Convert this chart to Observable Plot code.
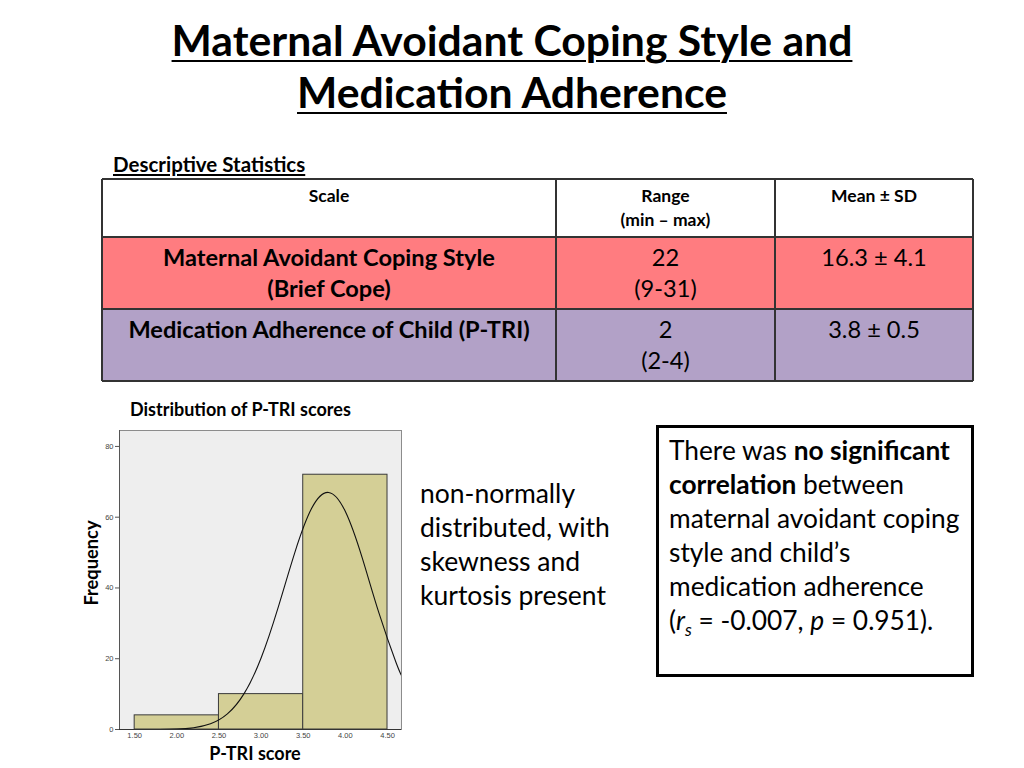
<!DOCTYPE html>
<html>
<head>
<meta charset="utf-8">
<script src="https://cdn.jsdelivr.net/npm/d3@7"></script>
<script src="https://cdn.jsdelivr.net/npm/@observablehq/plot@0.6"></script>
<style>
  html, body { margin:0; padding:0; background:#fff; }
  body { width:1024px; height:768px; position:relative; overflow:hidden; font-family: Lato, "Open Sans", sans-serif; color:#000; }
  .abs { position:absolute; }
  .title { left:0; width:1024px; text-align:center; font-weight:700; font-size:42.7px; line-height:52px; top:14px; }
  .title span { text-decoration: underline; text-decoration-thickness: 2px; text-underline-offset: 4px; }
  .cell { position:absolute; box-sizing:border-box; text-align:center; }
  .hdr { font-weight:700; font-size:17.5px; line-height:24px; padding-top:5px; }
  .row { font-size:23.6px; line-height:31px; padding-top:5px; }
  .box { left:656px; top:425px; width:318px; height:252px; box-sizing:border-box; border:3px solid #000; padding:5px 0 0 10px; font-size:26.3px; line-height:34px; }
  .mid { left:420px; top:476px; font-size:26.5px; line-height:34px; }
</style>
</head>
<body>
<div class="abs title"><span>Maternal Avoidant Coping Style and</span><br><span>Medication Adherence</span></div>

<div class="abs" style="left:113px; top:152px; font-weight:700; font-size:20.5px; text-decoration:underline;">Descriptive Statistics</div>
<div id="table"></div>

<div class="abs" style="left:130px; top:398px; font-weight:700; font-size:18px;">Distribution of P-TRI scores</div>
<div id="chart" class="abs" style="left:90px; top:420px;"></div>
<div class="abs" style="left:91px; top:563px; width:0; height:0;"><div style="position:absolute; transform:translate(-50%,-50%) rotate(-90deg); font-weight:700; font-size:18.3px; white-space:nowrap;">Frequency</div></div>
<div class="abs" style="left:255px; top:753px; width:0; height:0;"><div style="position:absolute; transform:translate(-50%,-50%); font-weight:700; font-size:18px; line-height:18px; white-space:nowrap;">P-TRI score</div></div>

<div class="abs mid">non-normally<br>distributed, with<br>skewness and<br>kurtosis present</div>

<div class="abs box">There was <b>no significant<br>correlation</b> between<br>maternal avoidant coping<br>style and child’s<br>medication adherence<br>(<i>r<sub style="font-size:17px;">s</sub></i> = -0.007, <i>p</i> = 0.951).</div>

<script>
// ---- Table data ----
const headers = ["Scale", "Range<br>(min – max)", "Mean ± SD"];
const scales = ["Maternal Avoidant Coping Style<br>(Brief Cope)", "Medication Adherence of Child (P-TRI)"];
const ranges = ["22<br>(9-31)", "2<br>(2-4)"];
const meanSD = ["16.3 ± 4.1", "3.8 ± 0.5"];
const rowColors = ["#ff7c80", "#b2a1c7"];

// ---- Histogram data ----
const binStart = [1.5, 2.5, 3.5];
const binEnd = [2.5, 3.5, 4.5];
const frequency = [4, 10, 72];
// Normal curve
const curveX = [1.6, 1.8, 2.0, 2.2, 2.4, 2.6, 2.8, 3.0, 3.2, 3.4, 3.6, 3.8, 4.0, 4.2, 4.4, 4.6, 4.67];
const curveY = [0, 0, 0.1, 0.5, 1.6, 4.4, 10.2, 20.2, 34.3, 50, 62.5, 67, 61.6, 48.5, 32.8, 19, 15.1];
const xTicks = [1.5, 2.0, 2.5, 3.0, 3.5, 4.0, 4.5];
const yTicks = [0, 20, 40, 60, 80];

// Build table
const colX = [102, 556, 775, 973];
const rowY = [179, 237, 309, 381];
const tbl = document.getElementById("table");
function cell(x0, x1, y0, y1, html, cls, bg, bold) {
  const d = document.createElement("div");
  d.className = "cell " + cls;
  d.style.left = x0 + "px"; d.style.top = y0 + "px";
  d.style.width = (x1 - x0) + "px"; d.style.height = (y1 - y0) + "px";
  d.style.background = bg;
  if (bold) d.style.fontWeight = "700";
  d.innerHTML = html;
  tbl.appendChild(d);
}
headers.forEach((h, i) => cell(colX[i], colX[i+1], rowY[0], rowY[1], h, "hdr", "#fff", true));
scales.forEach((s, r) => {
  cell(colX[0], colX[1], rowY[r+1], rowY[r+2], s, "row", rowColors[r], true);
  cell(colX[1], colX[2], rowY[r+1], rowY[r+2], ranges[r], "row", rowColors[r], false);
  cell(colX[2], colX[3], rowY[r+1], rowY[r+2], meanSD[r], "row", rowColors[r], false);
});
// grid lines
const lines = [];
rowY.forEach(y => lines.push([colX[0], y - 1, colX[3] - colX[0], 2]));
colX.forEach(x => lines.push([x - 1, rowY[0], 2, rowY[3] - rowY[0]]));
lines.forEach(([l, t, w, h]) => {
  const d = document.createElement("div");
  d.style.cssText = `position:absolute;left:${l}px;top:${t}px;width:${w}px;height:${h}px;background:#333;`;
  tbl.appendChild(d);
});

// Chart
const bars = binStart.map((s, i) => ({x1: s, x2: binEnd[i], y: frequency[i]}));
const curve = curveX.map((x, i) => ({x, y: curveY[i]}));
const plot = Plot.plot({
  width: 320,
  height: 325,
  marginLeft: 29,
  marginRight: 9,
  marginTop: 10,
  marginBottom: 16,
  style: {fontFamily: "Liberation Sans, Arial, sans-serif", fontSize: "7.5px", color: "#444", background: "transparent"},
  x: {domain: [1.32, 4.666], ticks: xTicks, tickFormat: d => d.toFixed(2), tickSize: 0, tickPadding: 3, label: null},
  y: {domain: [0, 84.5], ticks: yTicks, tickSize: 4, tickPadding: 2, label: null},
  marks: [
    Plot.frame({fill: "#eeeeee", stroke: "#8c8c8c"}),
    Plot.rectY(bars, {x1: "x1", x2: "x2", y: "y", fill: "#d4cf96", stroke: "#3a3a3a", strokeWidth: 1}),
    Plot.line(curve, {x: "x", y: "y", curve: "natural", stroke: "#111", strokeWidth: 1.1, clip: true}),
    Plot.axisY({ticks: yTicks, tickSize: 4, tickPadding: 2, stroke: "#555"}),
    Plot.axisX({ticks: xTicks, tickFormat: d => d.toFixed(2), tickSize: 0, tickPadding: 3}),
    Plot.ruleX([1.32], {stroke: "#555"}),
    Plot.ruleY([0], {stroke: "#333"})
  ]
});
document.getElementById("chart").appendChild(plot);
</script>
</body>
</html>
